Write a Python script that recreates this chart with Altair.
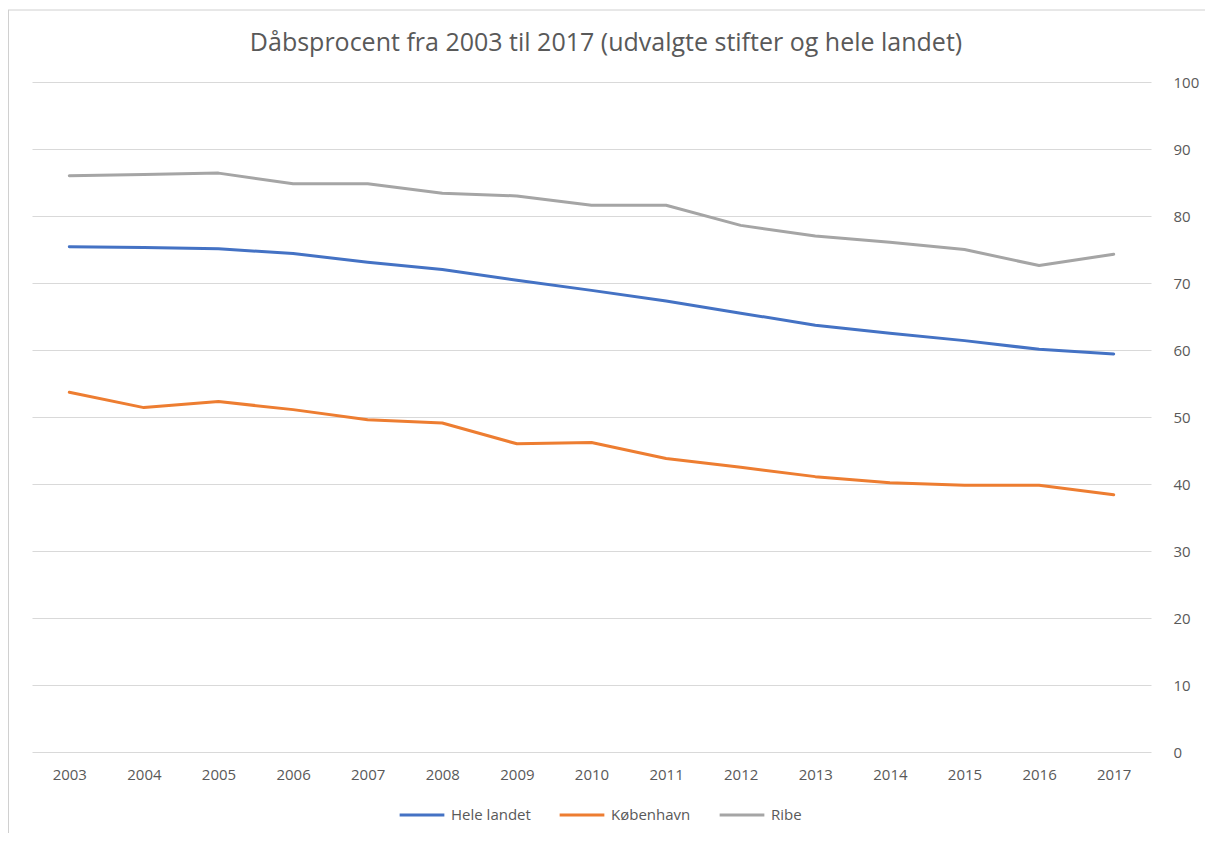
import altair as alt
import pandas as pd

years = [str(y) for y in range(2003, 2018)]
hele_landet = [75.4, 75.3, 75.1, 74.4, 73.1, 72.0, 70.4, 68.9, 67.3, 65.5, 63.7, 62.5, 61.4, 60.1, 59.4]
koebenhavn = [53.7, 51.4, 52.3, 51.1, 49.6, 49.1, 46.0, 46.2, 43.8, 42.5, 41.1, 40.2, 39.8, 39.8, 38.4]
ribe = [86.0, 86.2, 86.4, 84.8, 84.8, 83.4, 83.0, 81.6, 81.6, 78.6, 77.0, 76.1, 75.0, 72.6, 74.3]
series_names = ["Hele landet", "København", "Ribe"]
colors = ["#4472C4", "#ED7D31", "#A5A5A5"]
y_ticks = list(range(0, 101, 10))
title_text = "Dåbsprocent fra 2003 til 2017 (udvalgte stifter og hele landet)"

rows = []
for name, vals in zip(series_names, [hele_landet, koebenhavn, ribe]):
    for yr, v in zip(years, vals):
        rows.append({"År": yr, "Serie": name, "Procent": v})
df = pd.DataFrame(rows)

FONT = "Open Sans"
GREY = "#595959"

lines = alt.Chart(df).mark_line(strokeWidth=3, interpolate="linear", strokeJoin="round", strokeCap="round").encode(
    x=alt.X("År:N", sort=years, scale=alt.Scale(paddingInner=0, paddingOuter=0.5),
            axis=alt.Axis(title=None, labelAngle=0, ticks=False, domain=False,
                          labelPadding=15, labelFontSize=15, labelColor=GREY, labelFont=FONT)),
    y=alt.Y("Procent:Q", scale=alt.Scale(domain=[0, 100], nice=False),
            axis=alt.Axis(title=None, orient="right", values=y_ticks, ticks=False, domain=False,
                          labelPadding=22, labelFontSize=15, labelColor=GREY, labelFont=FONT,
                          gridColor="#d9d9d9", gridWidth=1)),
    color=alt.Color("Serie:N", sort=series_names,
                    scale=alt.Scale(domain=series_names, range=colors),
                    legend=alt.Legend(title=None, orient="none", direction="horizontal",
                                      legendX=366, legendY=709, symbolType="stroke",
                                      symbolStrokeWidth=3, symbolSize=2000,
                                      labelFontSize=15, labelColor=GREY, labelFont=FONT,
                                      columnPadding=22, labelOffset=5)),
)

one = pd.DataFrame({"t": [title_text]})
title = alt.Chart(one).mark_text(font=FONT, fontSize=25, color=GREY, align="center",
                                 baseline="middle").encode(
    text="t:N", x=alt.value(574), y=alt.value(-39))

border_left = alt.Chart(one).mark_rule(color="#d0d0d0", strokeWidth=1).encode(
    x=alt.value(-23.5), y=alt.value(-72), y2=alt.value(760))
border_top = alt.Chart(one).mark_rule(color="#d0d0d0", strokeWidth=1).encode(
    x=alt.value(-24), x2=alt.value(1175), y=alt.value(-72))

chart = alt.layer(border_left, border_top, title, lines).properties(
    width=1119, height=670,
    autosize=alt.AutoSizeParams(type="none"),
    padding={"left": 24, "top": 74, "right": 54, "bottom": 81},
).configure_view(stroke=None)

chart.save("out.html", embed_options={"renderer": "svg", "actions": False})
